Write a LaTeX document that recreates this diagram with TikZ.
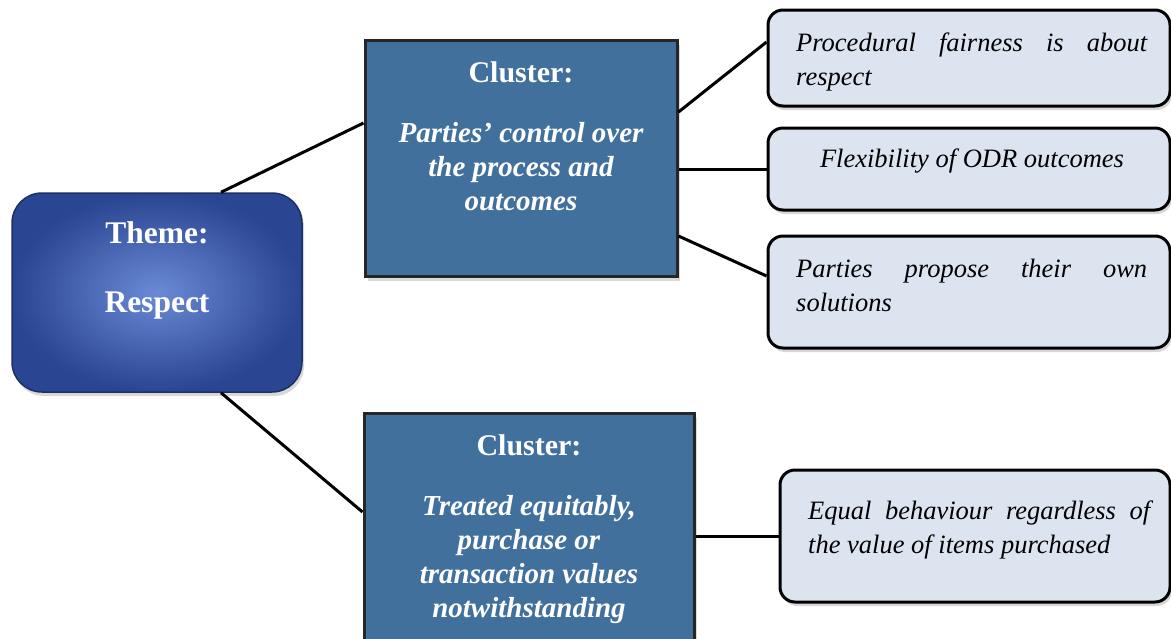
\documentclass[tikz,border=0pt]{standalone}
\usepackage{fontspec}
\setmainfont{Liberation Serif}[ItalicFont={Liberation Serif Italic}, BoldFont={Liberation Serif Bold}, BoldItalicFont={Liberation Serif Bold Italic}]
\usetikzlibrary{shadows}
\definecolor{themein}{HTML}{6A8AD6}
\definecolor{themeout}{HTML}{2A4592}
\definecolor{themeedge}{HTML}{1C2F66}
\definecolor{clusterfill}{HTML}{41709C}
\definecolor{leaffill}{HTML}{DCE4F0}
\newcommand{\leaffont}{\fontsize{26.5}{34}\selectfont\itshape\hyphenpenalty=10000\relax\exhyphenpenalty=10000\relax\tolerance=10000\relax}
\begin{document}
\begin{tikzpicture}[x=1pt,y=-1pt,
  conn/.style={line width=3pt, draw=black},
  themebox/.style={rounded corners=30pt, minimum width=290pt, minimum height=199pt,
    draw=themeedge, line width=1.5pt, inner color=themein, outer color=themeout,
    drop shadow={opacity=0.3, shadow xshift=2pt, shadow yshift=-4pt}},
  clusterbox/.style={fill=clusterfill, draw=black!85, line width=3pt, inner sep=0pt,
    drop shadow={opacity=0.3, shadow xshift=3pt, shadow yshift=-5pt}},
  leafbox/.style={fill=leaffill, draw=black, line width=3pt, rounded corners=15pt, inner sep=0pt,
    drop shadow={opacity=0.3, shadow xshift=2pt, shadow yshift=-4pt}},
  themetext/.style={text=white, font=\fontsize{31.5}{36}\selectfont\bfseries, inner sep=0pt},
  clustertitle/.style={text=white, font=\fontsize{30}{34}\selectfont\bfseries, inner sep=0pt},
  clustertext/.style={text=white, font=\fontsize{29}{34}\selectfont\bfseries\itshape, align=center, inner sep=0pt},
  leaftext/.style={text=black, font=\leaffont, inner sep=0pt},
]
\useasboundingbox (0,0) rectangle (1171,638);
\clip (0,0) rectangle (1171,638);
\fill[white] (0,0) rectangle (1171,638);

% boxes
\node[themebox] (theme) at (157,292.5) {};
\node[clusterbox, minimum width=312pt, minimum height=236pt] (c1) at (521,158) {};
\node[clusterbox, minimum width=330pt, minimum height=260pt] (c2) at (529,543) {};
\node[leafbox, minimum width=402pt, minimum height=96pt] (la) at (969,58) {};
\node[leafbox, minimum width=402pt, minimum height=82pt] (lb) at (969,169) {};
\node[leafbox, minimum width=402pt, minimum height=112pt] (lc) at (969,292) {};
\node[leafbox, minimum width=390pt, minimum height=132pt] (ld) at (975,536) {};

% texts
\node[themetext, anchor=base] (themet1) at (157,243) {Theme:};
\node[themetext, anchor=base] (themet2) at (157,312) {Respect};
\node[clustertitle, anchor=base] (c1t) at (521,82) {Cluster:};
\node[clustertext, anchor=north] (c1b) at (521,122) {Parties’ control over\\the process and\\outcomes};
\node[clustertitle, anchor=base] (c2t) at (529,455) {Cluster:};
\node[clustertext, anchor=north] (c2b) at (529,495) {Treated equitably,\\purchase or\\transaction values\\notwithstanding};
\node[leaftext, anchor=north west, text width=351pt, align=justify] (lat) at (796,33) {Procedural fairness is about respect};
\node[leaftext, anchor=north] (lbt) at (972,149) {Flexibility of ODR outcomes};
\node[leaftext, anchor=north west, text width=351pt, align=justify] (lct) at (796,259) {Parties propose their own solutions};
\node[leaftext, anchor=north west, text width=342pt, align=justify] (ldt) at (808,501) {Equal behaviour regardless of the value of items purchased};

% connectors
\draw[conn] ([xshift=64pt]theme.north) -- ([yshift=35pt]c1.west);
\draw[conn] ([xshift=64pt]theme.south) -- ([yshift=31pt]c2.west);
\draw[conn] ([yshift=46pt]c1.east) -- ([yshift=16pt]la.west);
\draw[conn] (c1.east |- lb.west) -- (lb.west);
\draw[conn] ([yshift=-78pt]c1.east) -- ([yshift=16pt]lc.west);
\draw[conn] (c2.east |- ld.west) -- (ld.west);
\end{tikzpicture}
\end{document}
